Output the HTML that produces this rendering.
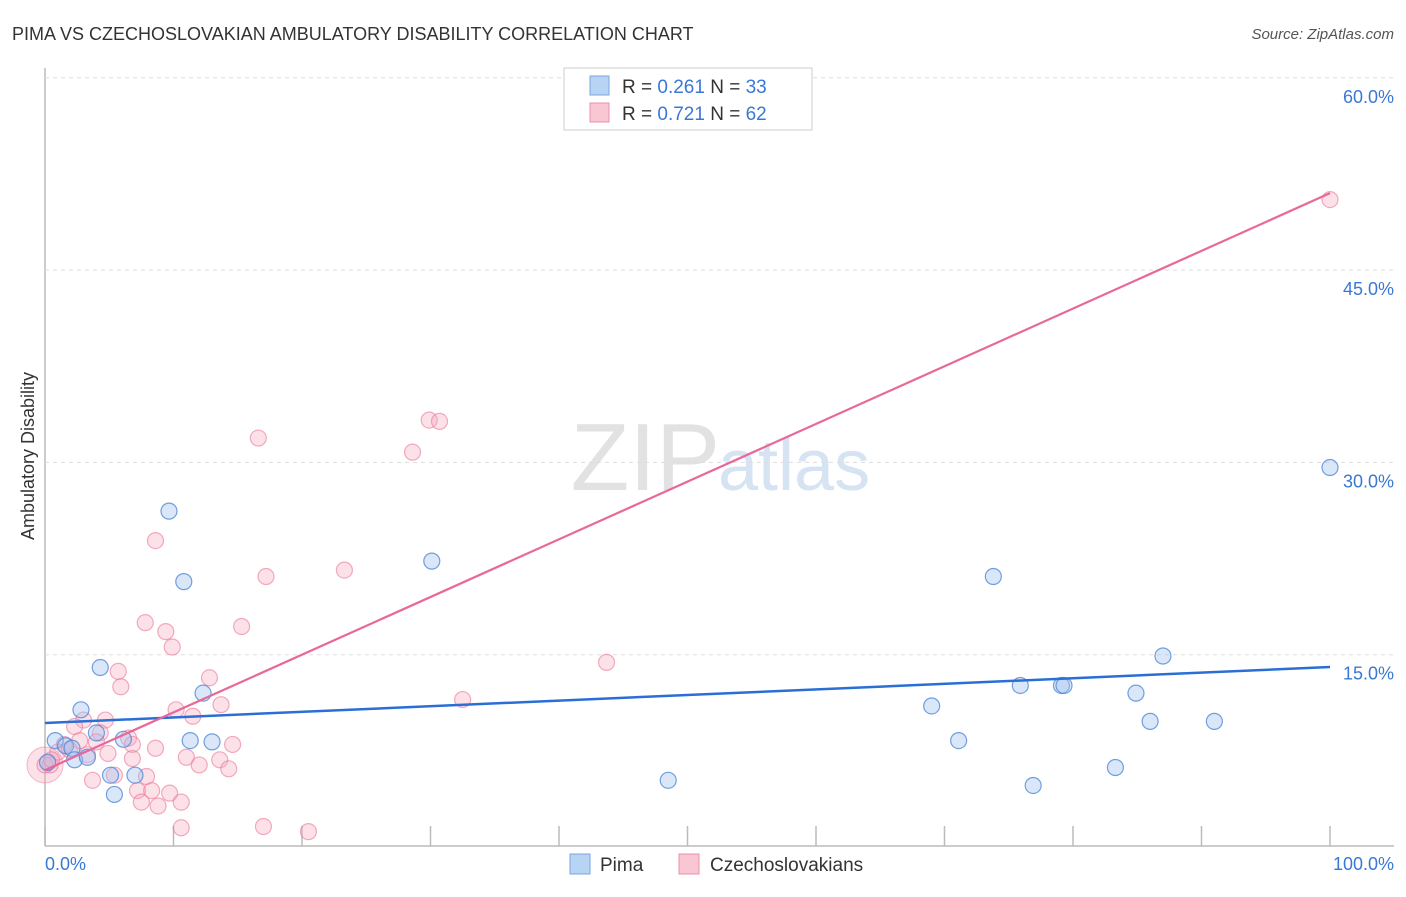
<!DOCTYPE html>
<html><head><meta charset="utf-8"><style>
body{margin:0;background:#fff;font-family:"Liberation Sans",sans-serif}
svg text{font-family:"Liberation Sans",sans-serif}
</style></head><body>
<svg id="c" width="1406" height="892">
<text x="12" y="40" font-size="18" fill="#333">PIMA VS CZECHOSLOVAKIAN AMBULATORY DISABILITY CORRELATION CHART</text>
<text x="1394" y="39" font-size="15" fill="#555" font-style="italic" text-anchor="end">Source: ZipAtlas.com</text>
<text x="720" y="490" font-size="96" fill="#e2e2e2" text-anchor="end" font-family="Liberation Serif">ZIP</text>
<text x="718" y="490" font-size="72" fill="#d5e3f3">atlas</text>
<text x="34" y="456" font-size="18" fill="#333" transform="rotate(-90 34 456)" text-anchor="middle">Ambulatory Disability</text>
<g id="grid"></g><g id="pts"></g><g id="lines"></g>
<g>
<rect x="564" y="68" width="248" height="62" fill="#fff" stroke="#ccc"/>
<rect x="590" y="76" width="19" height="19" fill="#b8d4f4" stroke="#7aa6dd"/>
<text x="622" y="93" font-size="19" fill="#333">R = <tspan fill="#3a78d6">0.261</tspan>   N = <tspan fill="#3a78d6">33</tspan></text>
<rect x="590" y="103" width="19" height="19" fill="#f9c6d3" stroke="#eb91aa"/>
<text x="622" y="120" font-size="19" fill="#333">R = <tspan fill="#3a78d6">0.721</tspan>   N = <tspan fill="#3a78d6">62</tspan></text>
</g>
<g>
<rect x="570" y="854" width="20" height="20" fill="#b8d4f4" stroke="#7aa6dd"/>
<text x="600" y="871" font-size="19" fill="#333">Pima</text>
<rect x="679" y="854" width="20" height="20" fill="#f9c6d3" stroke="#eb91aa"/>
<text x="710" y="871" font-size="19" fill="#333">Czechoslovakians</text>
</g>
<text x="45" y="870" font-size="18" fill="#3a78d6">0.0%</text>
<text x="1394" y="870" font-size="18" fill="#3a78d6" text-anchor="end">100.0%</text>
</svg>
<script>
const yTicks=[15,30,45,60];
const yTickLabels=["15.0%","30.0%","45.0%","60.0%"];
const xTicks=[0,10,20,30,40,50,60,70,80,90,100];
const pimaX=[9.65,10.8,30.1,4.3,12.3,2.8,0.8,1.6,2.1,6.1,4.0,11.3,13.0,2.3,3.3,5.1,7.0,5.4,48.5,69.0,71.1,73.8,75.9,79.1,79.3,76.9,83.3,84.9,86.0,87.0,91.0,100,0.2];
const pimaY=[26.2,20.7,22.3,14.0,12.0,10.7,8.3,7.9,7.7,8.4,8.9,8.3,8.2,6.8,7.0,5.6,5.6,4.1,5.2,11.0,8.3,21.1,12.6,12.6,12.6,4.8,6.2,12.0,9.8,14.9,9.8,29.6,6.6];
const czX=[16.6,29.9,30.7,28.6,8.6,17.2,23.3,7.8,9.4,15.3,9.9,5.7,5.9,12.8,43.7,32.5,10.2,11.5,13.7,3.0,4.7,2.3,4.3,6.5,6.8,14.6,8.6,4.0,1.5,1.0,3.3,4.9,6.8,11.0,12.0,13.6,14.3,0.4,0,0.5,3.7,5.4,7.9,7.2,8.3,9.7,10.6,7.5,8.8,10.6,17.0,20.5,100,1.9,2.7];
const czY=[31.9,33.3,33.2,30.8,23.9,21.1,21.6,17.5,16.8,17.2,15.6,13.7,12.5,13.2,14.4,11.5,10.7,10.2,11.1,9.9,9.9,9.4,8.9,8.5,8.0,8.0,7.7,8.2,8.0,7.4,7.2,7.3,6.9,7.0,6.4,6.8,6.1,6.4,6.4,6.8,5.2,5.6,5.5,4.4,4.4,4.2,3.5,3.5,3.2,1.5,1.6,1.2,50.5,7.6,8.3];
const pimaLine=[9.67,14.04];
const czLine=[6.0,51.0];
const X=v=>45+v*12.85, Y=v=>847-v*12.82;
const NS="http://www.w3.org/2000/svg";
function mk(t,a,p){const e=document.createElementNS(NS,t);for(const k in a)e.setAttribute(k,a[k]);p.appendChild(e);return e;}
const g=document.getElementById('grid');
let ax=mk('line',{x1:45,y1:68,x2:45,y2:846,stroke:'#bbb','stroke-width':1.5},g);


let bx=mk('line',{x1:45,y1:846,x2:1394,y2:846,stroke:'#bbb','stroke-width':1.5},g);


yTicks.forEach((v,i)=>{
 const l=mk('line',{x1:45,x2:1394,y1:Y(v),y2:Y(v),stroke:'#ddd','stroke-dasharray':'4,4'},g);
 
 
 const t=mk('text',{x:1394,y:Y(v)+25,'font-size':18,fill:'#3a78d6','text-anchor':'end'},g);
 t.textContent=yTickLabels[i];
 
 
});
xTicks.forEach(v=>{
 const l=mk('line',{x1:X(v),x2:X(v),y1:826,y2:846,stroke:'#bbb','stroke-width':1.5},g);
 
 
});
const p=document.getElementById('pts');
const big=mk('circle',{cx:X(0),cy:Y(6.4),r:18,fill:'rgba(246,170,192,0.35)',stroke:'rgba(233,120,150,0.5)'},p);


czX.forEach((v,i)=>{
 const c=mk('circle',{cx:X(v),cy:Y(czY[i]),r:8,fill:'rgba(246,170,192,0.35)',stroke:'rgba(233,120,150,0.6)','stroke-width':1.2},p);
 
 
});
pimaX.forEach((v,i)=>{
 const c=mk('circle',{cx:X(v),cy:Y(pimaY[i]),r:8,fill:'rgba(160,196,240,0.4)',stroke:'rgba(70,130,215,0.75)','stroke-width':1.2},p);
 
 
});
const L=document.getElementById('lines');
const bl=mk('line',{x1:X(0),y1:Y(pimaLine[0]),x2:X(100),y2:Y(pimaLine[1]),stroke:'#2a6fd6','stroke-width':2.5},L);


const pl=mk('line',{x1:X(0),y1:Y(czLine[0]),x2:X(100),y2:Y(czLine[1]),stroke:'#e8689a','stroke-width':2.2},L);


</script>
</body></html>
